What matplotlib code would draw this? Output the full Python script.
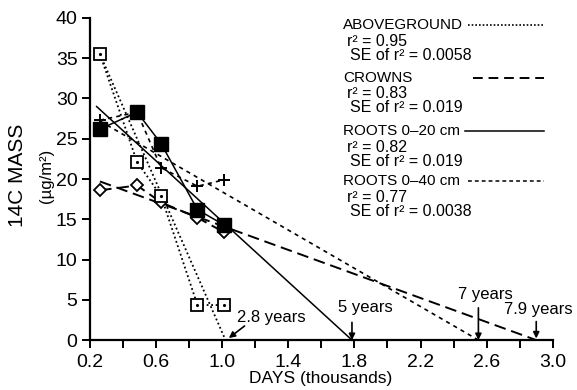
import matplotlib
matplotlib.use("Agg")
import matplotlib.pyplot as plt
from matplotlib.lines import Line2D

plt.rcParams['font.family'] = ['Liberation Sans', 'DejaVu Sans']

# ---- data (days in thousands, 14C mass ug/m2) ----
days = [0.26, 0.485, 0.63, 0.85, 1.01]
above = [35.5, 22.1, 17.9, 4.35, 4.35]      # open squares, dotted
filled = [26.2, 28.3, 24.4, 16.2, 14.3]     # filled squares, solid
plus = [27.3, 28.3, 21.4, 19.1, 19.9]       # plus, short dash
diam = [18.6, 19.2, 17.1, 15.2, 13.4]       # diamonds, long dash

# regression lines: (start x, start y, zero-crossing x)
reg_above = (0.26, 35.5, 1.02)
reg_solid = (0.24, 29.0, 1.785)
reg_long = (0.26, 19.7, 2.90)
reg_short = (0.26, 27.2, 2.55)

legend_names = ["ABOVEGROUND", "CROWNS", "ROOTS 0\u201320 cm", "ROOTS 0\u201340 cm"]
legend_r2 = ["0.95", "0.83", "0.82", "0.77"]
legend_se = ["0.0058", "0.019", "0.019", "0.0038"]

xticks_major = [0.2, 0.6, 1.0, 1.4, 1.8, 2.2, 2.6, 3.0]
xticks_minor = [0.4, 0.8, 1.2, 1.6, 2.0, 2.4, 2.8]
yticks = [0, 5, 10, 15, 20, 25, 30, 35, 40]

# annotations: label, text x, text y, arrow start (x,y), arrow tip (x,y)
annots = [
    ("2.8 years", 1.30, 2.75, (1.135, 1.75), (1.04, 0.25)),
    ("5 years", 1.865, 4.0, (1.785, 2.2), (1.785, 0.0)),
    ("7 years", 2.59, 5.6, (2.55, 4.0), (2.55, 0.0)),
    ("7.9 years", 2.91, 3.75, (2.90, 2.3), (2.90, 0.2)),
]

LONG = (6, 3)
SHORT = (2.5, 2.5)

fig = plt.figure(figsize=(5.77, 3.9), dpi=100)
ax = fig.add_axes([0.156, 0.128, 0.802, 0.826])
ax.set_xlim(0.2, 3.0)
ax.set_ylim(0, 40)

def reg(r):
    return [r[0], r[2]], [r[1], 0]

# regression lines
x, y = reg(reg_above)
ax.plot(x, y, color='k', lw=1.3, linestyle=(0, (1, 1.5)), clip_on=False)
x, y = reg(reg_solid)
ax.plot(x, y, color='k', lw=1.1, linestyle='-', clip_on=False)
x, y = reg(reg_long)
ax.plot(x, y, color='k', lw=1.4, linestyle=(0, LONG), clip_on=False)
x, y = reg(reg_short)
ax.plot(x, y, color='k', lw=1.2, linestyle=(0, SHORT), clip_on=False)

# connecting data lines + markers
ax.plot(days, above, color='k', lw=1.3, linestyle=(0, (1, 1.5)), zorder=3)
ax.plot(days, filled, color='k', lw=1.1, linestyle='-', zorder=3)
ax.plot(days, plus, color='k', lw=1.2, linestyle=(0, SHORT), zorder=3)
ax.plot(days, diam, color='k', lw=1.4, linestyle=(0, LONG), zorder=3)

ax.plot(days, diam, linestyle='none', marker='D', ms=6.5, mfc='white', mec='k', mew=1.3, zorder=4)
ax.plot(days, filled, linestyle='none', marker='s', ms=9.5, mfc='k', mec='k', zorder=5)
ax.plot(days, plus, linestyle='none', marker='+', ms=9, mec='k', mew=1.4, zorder=6)
ax.plot(days, above, linestyle='none', marker='s', ms=8.5, mfc='white', mec='k', mew=1.3, zorder=6)
ax.plot(days, above, linestyle='none', marker='.', ms=2.5, color='k', zorder=7)

# annotations
for lab, tx, ty, start, tip in annots:
    ax.text(tx, ty, lab, ha='center', va='center', fontsize=12)
    ax.annotate('', xy=tip, xytext=start,
                arrowprops=dict(arrowstyle='-|>', color='k', lw=1.2, mutation_scale=9,
                                shrinkA=0, shrinkB=0))

# axes styling
for s in ['top', 'right']:
    ax.spines[s].set_visible(False)
for s in ['left', 'bottom']:
    ax.spines[s].set_linewidth(1.6)
ax.set_xticks(xticks_major)
ax.set_xticklabels([f"{v:.1f}" for v in xticks_major])
ax.set_xticks(xticks_minor, minor=True)
ax.set_yticks(yticks)
ax.tick_params(axis='both', which='both', direction='out', length=6, width=1.4, labelsize=14)
ax.tick_params(axis='x', pad=4)
ax.tick_params(axis='y', pad=3)

fig.text(321 / 577, 1 - 378 / 390, "DAYS (thousands)", ha='center', va='center', fontsize=12.5)
fig.text(0.030, 0.55, "14C MASS", rotation=90, ha='center', va='center', fontsize=15)
fig.text(0.080, 0.55, "(\u00b5g/m\u00b2)", rotation=90, ha='center', va='center', fontsize=12)

# legend block (figure pixel layout)
W, H = 577.0, 390.0
title_y = [25, 78, 131, 181]
styles = [dict(linestyle=(0, (1, 1.2)), lw=1.2),
          dict(linestyle=(0, (5, 3)), lw=1.4),
          dict(linestyle='-', lw=1.1),
          dict(linestyle=(0, (2.5, 2)), lw=1.1)]
line_x0 = [468, 473, 465, 468]
for i, name in enumerate(legend_names):
    ty = title_y[i]
    fig.text(343 / W, 1 - ty / H, name, ha='left', va='center', fontsize=11)
    fig.text(347 / W, 1 - (ty + 16) / H, "r\u00b2 = " + legend_r2[i], ha='left', va='center', fontsize=11.5)
    fig.text(350 / W, 1 - (ty + 30) / H, "SE of r\u00b2 = " + legend_se[i], ha='left', va='center', fontsize=11.5)
    fig.add_artist(Line2D([line_x0[i] / W, 544 / W], [1 - ty / H, 1 - ty / H],
                          color='k', transform=fig.transFigure, **styles[i]))

fig.savefig("out.png", dpi=100)
